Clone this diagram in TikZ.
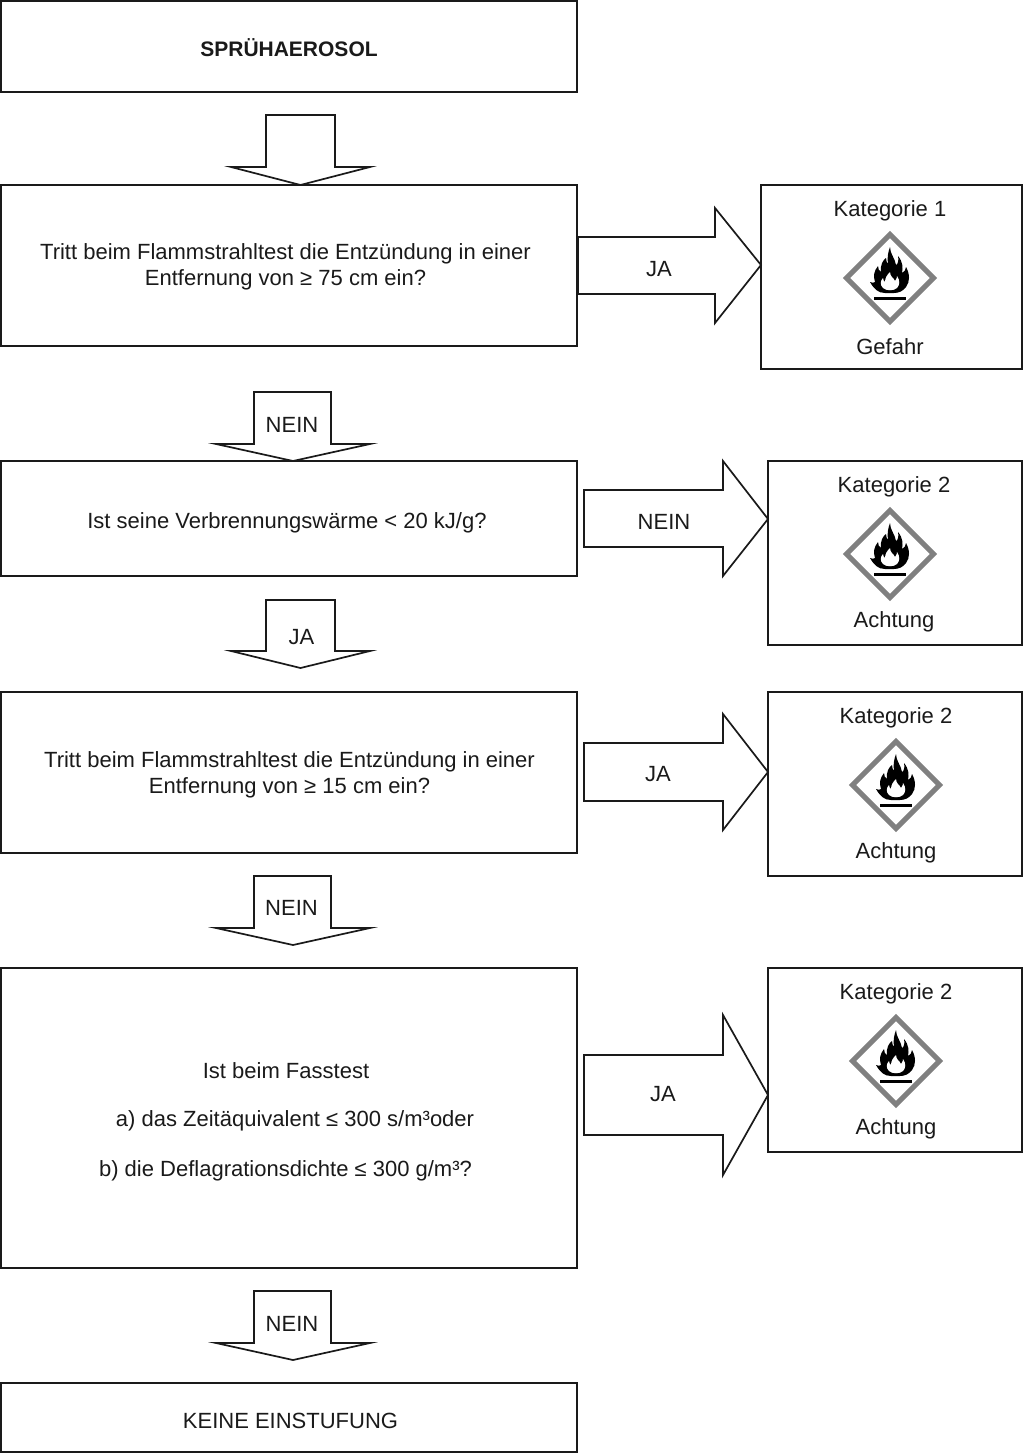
\documentclass[tikz,border=0pt]{standalone}
\usepackage{fontspec}
\setmainfont{Liberation Sans}
\definecolor{ink}{HTML}{1A1A1A}
\definecolor{hazgrey}{HTML}{808080}
\tikzset{
  x=1pt,y=-1pt,
  outl/.style={draw=ink,line width=1.7pt,fill=white,line join=miter},
  blockarrow/.style={draw=ink,line width=1.7pt,fill=white,line join=miter},
  lab/.style={font=\fontsize{22}{25.5}\selectfont,text=ink,inner sep=0pt,align=center},
}
\newcommand{\hazard}[2]{%
  \begin{scope}[shift={(#1,#2)}]
    \draw[draw=hazgrey,line width=5pt,line join=miter,fill=white] (0,-43.5) -- (43.5,0) -- (0,43.5) -- (-43.5,0) -- cycle;
    \fill[black] (-16,18.5) rectangle (16,21.5);
    \fill[black] (0,-31) .. controls (0,-24) and (5,-20) .. (6,-13)
      .. controls (8,-14) and (9,-18) .. (8,-22)
      .. controls (13,-16) and (13,-10) .. (12,-5)
      .. controls (14,-6) and (16,-8) .. (16,-11)
      .. controls (20,-4) and (20,4) .. (16,9)
      .. controls (13,13) and (9,15) .. (4,15)
      -- (-5,15)
      .. controls (-12,15) and (-16,11) .. (-20,4)
      .. controls (-18,5) and (-16,5) .. (-15,4)
      .. controls (-17,-2) and (-16,-7) .. (-12,-12)
      .. controls (-12,-9) and (-11,-7) .. (-9,-6)
      .. controls (-10,-13) and (-7,-18) .. (-4,-20)
      .. controls (-4,-17) and (-3,-15) .. (-2,-14)
      .. controls (-3,-20) and (-2,-26) .. (0,-31) -- cycle;
    \fill[white] (0,-6) .. controls (0,-1) and (4,0) .. (5,3)
      .. controls (7,0) and (7,-1) .. (7,-2)
      .. controls (10,2) and (10,7) .. (7,10)
      .. controls (4,13) and (-4,13) .. (-7,10)
      .. controls (-10,7) and (-10,3) .. (-7,0)
      .. controls (-7,2) and (-6,3) .. (-5,4)
      .. controls (-5,0) and (-3,-3) .. (0,-6) -- cycle;
  \end{scope}}
\newcommand{\downarrowshape}[7]{% left right top shoulder wingL wingR tipY
  \draw[blockarrow] (#1,#3) -- (#2,#3) -- (#2,#4) -- (#6,#4) -- ({(#5+#6)/2},#7) -- (#5,#4) -- (#1,#4) -- cycle;}
\newcommand{\rightarrowshape}[7]{% left headX top bottom wingT wingB tipY
  \draw[blockarrow] (#1,#3) -- (#2,#3) -- (#2,#5) -- (#7) -- (#2,#6) -- (#2,#4) -- (#1,#4) -- cycle;}
\begin{document}
\begin{tikzpicture}
\useasboundingbox (0,0) rectangle (1023,1453);
\fill[white] (0,0) rectangle (1023,1453);

% arrows first so boxes overlap their tips
\downarrowshape{266}{335}{115}{167}{231}{370}{185}
\downarrowshape{254}{331}{392}{444}{216}{370}{461}
\downarrowshape{266}{335}{600}{651}{231}{370}{668}
\downarrowshape{254}{331}{876}{928}{216}{370}{945}
\downarrowshape{254}{331}{1291}{1343}{216}{370}{1360}
\rightarrowshape{578}{715}{237}{294}{208}{323}{761,265}
\rightarrowshape{584}{723}{490}{547}{461}{576}{768,519}
\rightarrowshape{584}{723}{743}{801}{714}{830}{768,772}
\rightarrowshape{584}{723}{1055}{1135}{1015}{1175}{768,1095}

% main boxes
\draw[outl,fill=none] (1,1) rectangle (577,92);
\draw[outl,fill=none] (1,185) rectangle (577,346);
\draw[outl,fill=none] (1,461) rectangle (577,576);
\draw[outl,fill=none] (1,692) rectangle (577,853);
\draw[outl,fill=none] (1,968) rectangle (577,1268);
\draw[outl,fill=none] (1,1383) rectangle (577,1452);
% result boxes
\draw[outl,fill=none] (761,185) rectangle (1022,369);
\draw[outl,fill=none] (768,461) rectangle (1022,645);
\draw[outl,fill=none] (768,692) rectangle (1022,876);
\draw[outl,fill=none] (768,968) rectangle (1022,1152);

% main texts
\node[lab,font=\fontsize{21}{25}\selectfont\bfseries] (t0) at (289,48) {SPRÜHAEROSOL};
\node[lab] (t1) at (285.5,267) {Tritt beim Flammstrahltest die Entzündung in einer\\Entfernung von ≥ 75 cm ein?};
\node[lab] (t2) at (287,523) {Ist seine Verbrennungswärme < 20 kJ/g?};
\node[lab] (t3) at (289.5,775) {Tritt beim Flammstrahltest die Entzündung in einer\\Entfernung von ≥ 15 cm ein?};
\node[lab] (t4a) at (286,1071) {Ist beim Fasstest};
\node[lab] (t4b) at (295,1121) {a) das Zeitäquivalent ≤ 300 s/m³oder};
\node[lab] (t4c) at (285.5,1171) {b) die Deflagrationsdichte ≤ 300 g/m³?};
\node[lab] (t5) at (290.5,1421) {KEINE EINSTUFUNG};

% arrow labels
\node[lab] (l1) at (292,425) {NEIN};
\node[lab] (l2) at (301.5,637) {JA};
\node[lab] (l3) at (291.5,908) {NEIN};
\node[lab] (l4) at (292,1324) {NEIN};
\node[lab] (r1) at (659,269) {JA};
\node[lab] (r2) at (664,522) {NEIN};
\node[lab] (r3) at (658,774) {JA};
\node[lab] (r4) at (663,1094) {JA};

% result contents
\node[lab] (k1) at (890,211) {Kategorie 1};
\hazard{890}{278}
\node[lab] (g1) at (890,347) {Gefahr};
\node[lab] (k2) at (894,487) {Kategorie 2};
\hazard{890}{554}
\node[lab] (g2) at (894,622) {Achtung};
\node[lab] (k3) at (896,718) {Kategorie 2};
\hazard{896}{785}
\node[lab] (g3) at (896,853) {Achtung};
\node[lab] (k4) at (896,994) {Kategorie 2};
\hazard{896}{1061}
\node[lab] (g4) at (896,1129) {Achtung};
\end{tikzpicture}
\end{document}
